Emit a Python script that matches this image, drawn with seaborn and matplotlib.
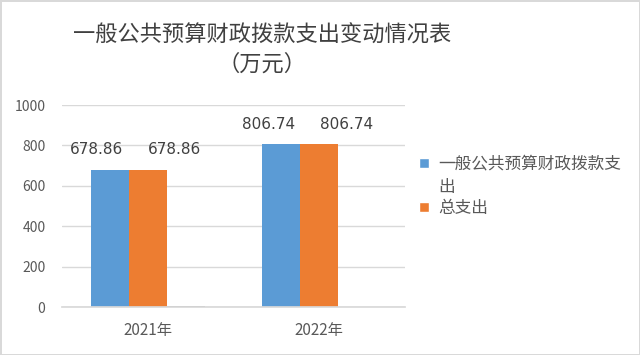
import pandas as pd
import numpy as np
import matplotlib.pyplot as plt
import seaborn as sns
from matplotlib.patches import Patch, Rectangle
from matplotlib.legend_handler import HandlerPatch

# data
years = ['2021年', '2022年']
series_names = ['一般公共预算财政拨款支出', '总支出', '其他']
appropriation = [678.86, 806.74]
total_spend = [678.86, 806.74]
other = [4, 0]

colors = ['#5B9BD5', '#ED7D31', '#A5A5A5']

df = pd.DataFrame({
    'year': years * 3,
    'series': [series_names[0]] * 2 + [series_names[1]] * 2 + [series_names[2]] * 2,
    'value': appropriation + total_spend + other,
})

sns.set_theme(style='white')
plt.rcParams['font.family'] = ['Noto Sans CJK SC', 'DejaVu Sans']

fig = plt.figure(figsize=(6.4, 3.55), dpi=100)
fig.patch.set_edgecolor('#d9d9d9')
fig.patch.set_linewidth(2)
ax = fig.add_axes([0.097, 0.135, 0.536, 0.569])

sns.barplot(data=df, x='year', y='value', hue='series', palette=colors,
            width=0.665, gap=0, saturation=1, ax=ax, legend=False, linewidth=0)

ax.set_ylim(0, 1000)
ax.set_xlim(-0.5, 1.5)
ax.set_yticks(range(0, 1001, 200))
ax.yaxis.grid(True, color='#d9d9d9', linewidth=1)
ax.set_axisbelow(True)
for s in ['top', 'right', 'left']:
    ax.spines[s].set_visible(False)
ax.spines['bottom'].set_color('#d9d9d9')
ax.tick_params(axis='both', length=0, labelsize=10, labelcolor='#595959')
ax.tick_params(axis='x', pad=11, labelsize=11)
ax.tick_params(axis='y', pad=12)
ax.set_xlabel('')
ax.set_ylabel('')

# data labels on the first two series, nudged apart like the original
label_shift = [(-13, 20), (27, 20)]
for cont, (dx, dy) in zip(ax.containers[:2], label_shift):
    for bar in cont:
        h = bar.get_height()
        ax.annotate(f'{h:.2f}', (bar.get_x() + bar.get_width() / 2, h),
                    xytext=(dx, dy), textcoords='offset pixels',
                    ha='center', va='center', fontsize=11, color='#404040',
                    family='DejaVu Sans')

fig.text(0.41, 0.902, '一般公共预算财政拨款支出变动情况表', ha='center', va='center',
         fontsize=16, color='#404040')
fig.text(0.41, 0.82, '（万元）', ha='center', va='center', fontsize=16, color='#404040')


# legend square next to the first line of a wrapped label
def top_square(legend, orig_handle, xdescent, ydescent, width, height, fontsize):
    return Rectangle((-xdescent, -ydescent + 9.5), width, height)


handles = [Patch(facecolor=colors[0]), Patch(facecolor=colors[1])]
labels = ['一般公共预算财政拨款支\n出', '总支出']
leg = fig.legend(handles, labels, loc='upper left', bbox_to_anchor=(0.632, 0.605),
                 frameon=False, fontsize=12, labelcolor='#595959', handlelength=0.6,
                 handleheight=0.6, handletextpad=0.5, labelspacing=0.25,
                 handler_map={handles[0]: HandlerPatch(patch_func=top_square)})
for t in leg.get_texts():
    t.set_linespacing(1.5)

fig.savefig('out.png', dpi=100, edgecolor=fig.get_edgecolor())
